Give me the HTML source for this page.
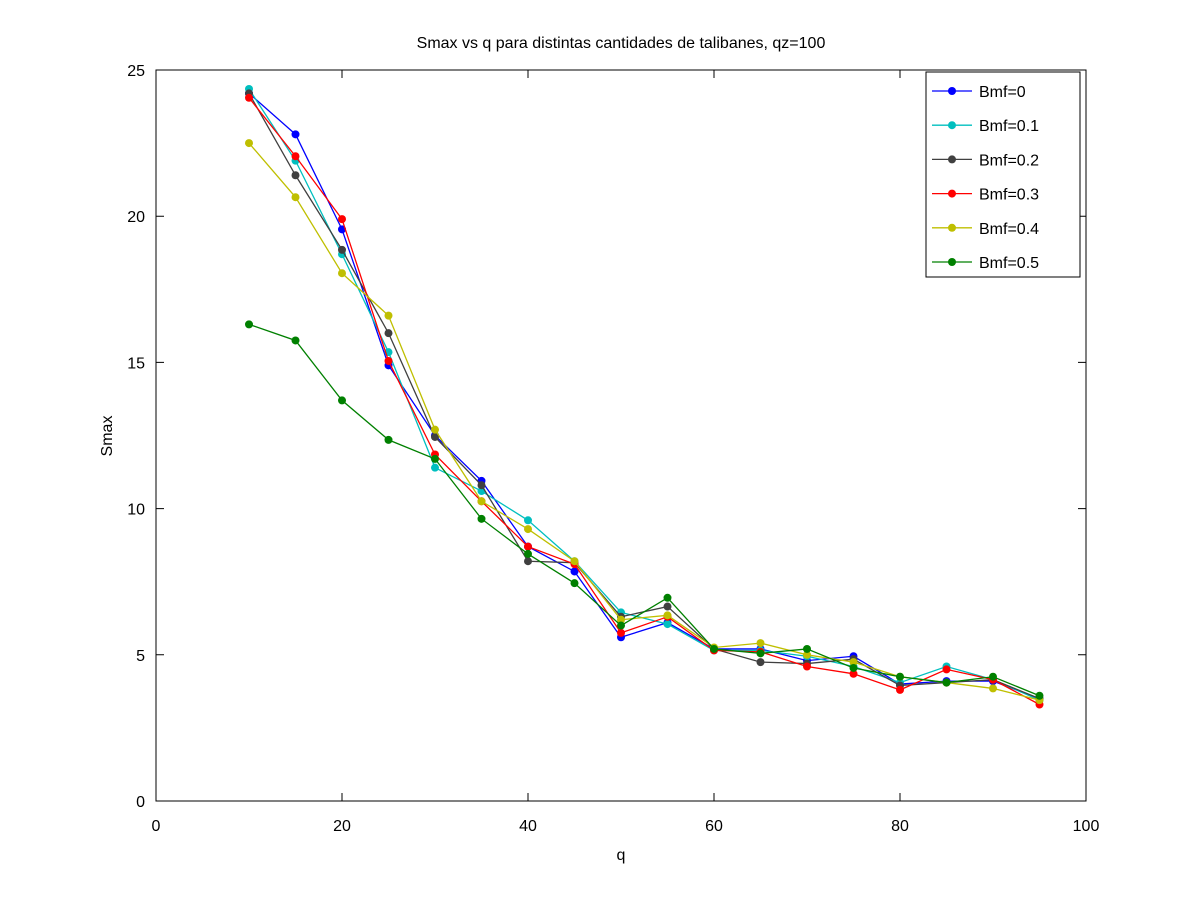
<!DOCTYPE html>
<html><head><meta charset="utf-8"><style>
body{margin:0;background:#fff}
text{font-family:"Liberation Sans",sans-serif;fill:#000}
</style></head><body>
<svg id="chart" width="1200" height="900" xmlns="http://www.w3.org/2000/svg">
<rect width="1200" height="900" fill="#fff"/>
<text x="621" y="48" font-size="16" text-anchor="middle">Smax vs q para distintas cantidades de talibanes, qz=100</text>
<rect x="156" y="70" width="930" height="731" fill="none" stroke="#000" stroke-width="1"/>
<g id="ticks"></g>
<g id="series"></g>
<text x="621" y="860" font-size="16" text-anchor="middle">q</text>
<text x="112" y="436" font-size="16" text-anchor="middle" transform="rotate(-90 112 436)">Smax</text>
<g id="legend"></g>
</svg>
<script>
const qValues=[10,15,20,25,30,35,40,45,50,55,60,65,70,75,80,85,90,95];
const bmf0=[24.2,22.8,19.55,14.9,12.5,10.95,8.7,7.85,5.6,6.1,5.2,5.2,4.8,4.95,4.0,4.1,4.1,3.5];
const bmf01=[24.35,21.9,18.7,15.35,11.4,10.6,9.6,8.2,6.45,6.05,5.15,5.15,4.95,4.6,4.05,4.6,4.15,3.45];
const bmf02=[24.2,21.4,18.85,16.0,12.45,10.8,8.2,8.15,6.3,6.65,5.2,4.75,4.7,4.85,3.95,4.05,4.15,3.5];
const bmf03=[24.05,22.05,19.9,15.05,11.85,10.25,8.7,8.1,5.75,6.3,5.15,5.1,4.6,4.35,3.8,4.5,4.15,3.3];
const bmf04=[22.5,20.65,18.05,16.6,12.7,10.25,9.3,8.2,6.2,6.35,5.25,5.4,5.0,4.75,4.25,4.05,3.85,3.45];
const bmf05=[16.3,15.75,13.7,12.35,11.7,9.65,8.45,7.45,6.0,6.95,5.2,5.05,5.2,4.55,4.25,4.05,4.25,3.6];
const seriesNames=["Bmf=0","Bmf=0.1","Bmf=0.2","Bmf=0.3","Bmf=0.4","Bmf=0.5"];
const xTicks=[0,20,40,60,80,100];
const yTicks=[0,5,10,15,20,25];
const allSeries=[bmf0,bmf01,bmf02,bmf03,bmf04,bmf05];
const colors=["#0000ff","#00bfbf","#404040","#ff0000","#bfbf00","#008000"];
const NS="http://www.w3.org/2000/svg";
const X=v=>156+v*9.3;
const Y=v=>801-v*29.24;
function mk(tag,attrs,parent){const e=document.createElementNS(NS,tag);for(const k in attrs)e.setAttribute(k,attrs[k]);parent.appendChild(e);return e;}
const tg=document.getElementById('ticks');
xTicks.forEach(t=>{
  const x=X(t);
  const a=mk('path',{d:`M${x},801v-8M${x},70v8`,stroke:'#000'},tg);
  
  
  const l=mk('text',{x:x,y:831,'font-size':16,'text-anchor':'middle'},tg);l.textContent=t;
  
  
});
yTicks.forEach(t=>{
  const y=Y(t);
  const a=mk('path',{d:`M156,${y}h8M1086,${y}h-8`,stroke:'#000'},tg);
  
  
  const l=mk('text',{x:145,y:y+6,'font-size':16,'text-anchor':'end'},tg);l.textContent=t;
  
  
});
const sg=document.getElementById('series');
allSeries.forEach((s,i)=>{
  const g=mk('g',{},sg);
  
  
  const pl=mk('polyline',{points:s.map((v,j)=>X(qValues[j])+','+Y(v)).join(' '),fill:'none',stroke:colors[i],'stroke-width':1.3},g);
  
  
  s.forEach((v,j)=>{
    const c=mk('circle',{cx:X(qValues[j]),cy:Y(v),r:4,fill:colors[i]},g);
    
    
  });
});
const lg=document.getElementById('legend');
const lb=mk('rect',{x:926,y:72,width:154,height:205,fill:'#fff',stroke:'#000'},lg);


seriesNames.forEach((n,i)=>{
  const y=91+i*34.2;
  const g=mk('g',{},lg);
  
  
  mk('line',{x1:932,x2:972,y1:y,y2:y,stroke:colors[i],'stroke-width':1.3},g);
  mk('circle',{cx:952,cy:y,r:4,fill:colors[i]},g);
  const t=mk('text',{x:979,y:y+6,'font-size':16},g);t.textContent=n;
});
</script>
</body></html>
